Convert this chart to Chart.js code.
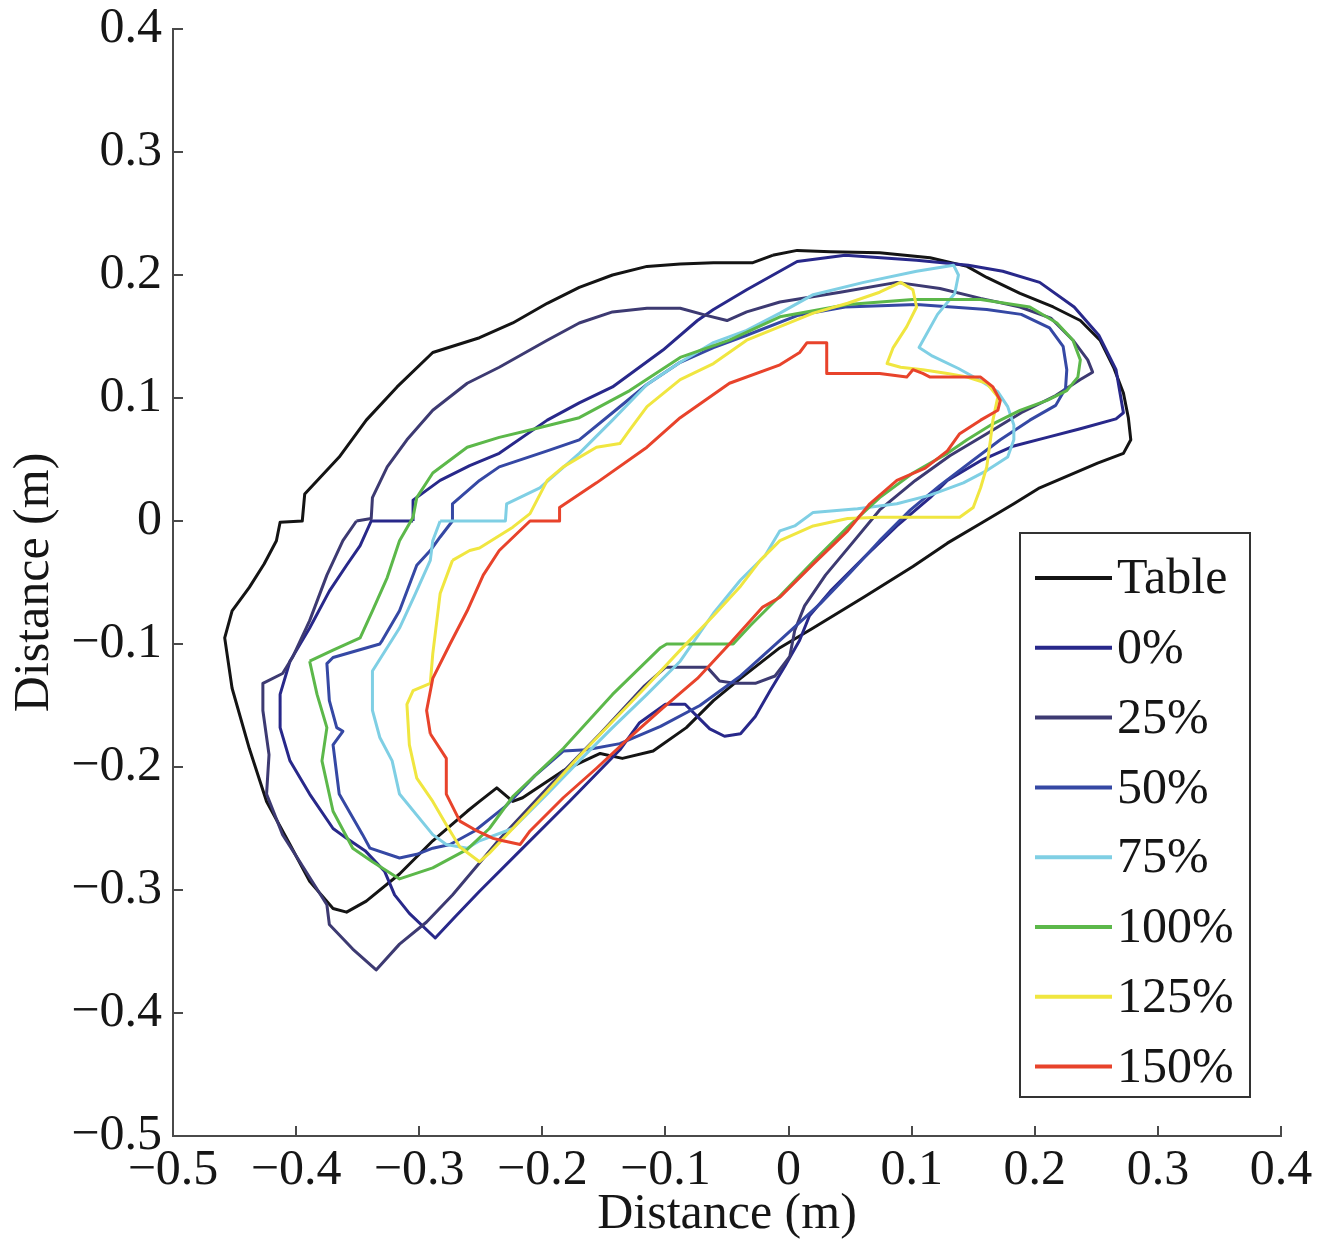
<!DOCTYPE html>
<html><head><meta charset="utf-8">
<style>html,body{margin:0;padding:0;background:#fff}#wrap{width:1331px;height:1245px}</style>
<script src="https://cdn.jsdelivr.net/npm/chart.js@4"></script>
</head><body><div id="wrap"><canvas id="c" width="1331" height="1245"></canvas></div>
<script>
const seriesLabels = ['Table','0%','25%','50%','75%','100%','125%','150%'];
const seriesColors = ['#141414','#28288a','#3d3a72','#3548a4','#7fcfe4','#5cb84a','#f0e640','#e8432b'];
const xTickValues = [-0.5,-0.4,-0.3,-0.2,-0.1,0,0.1,0.2,0.3,0.4];
const yTickValues = [-0.5,-0.4,-0.3,-0.2,-0.1,0,0.1,0.2,0.3,0.4];
const xTitle = 'Distance (m)';
const yTitle = 'Distance (m)';

const tablePts = [[-0.013,0.216],[0.007,0.220],[0.034,0.219],[0.074,0.218],[0.115,0.214],[0.145,0.207],[0.161,0.198],[0.188,0.185],[0.215,0.174],[0.237,0.163],[0.253,0.147],[0.264,0.125],[0.272,0.104],[0.276,0.084],[0.278,0.066],[0.272,0.055],[0.251,0.047],[0.223,0.035],[0.204,0.027],[0.183,0.014],[0.156,-0.002],[0.129,-0.018],[0.101,-0.037],[0.061,-0.062],[0.020,-0.087],[-0.007,-0.103],[-0.039,-0.128],[-0.061,-0.146],[-0.083,-0.168],[-0.110,-0.187],[-0.135,-0.193],[-0.153,-0.189],[-0.183,-0.203],[-0.216,-0.225],[-0.224,-0.228],[-0.237,-0.217],[-0.251,-0.228],[-0.261,-0.236],[-0.289,-0.260],[-0.316,-0.287],[-0.343,-0.309],[-0.359,-0.318],[-0.370,-0.315],[-0.389,-0.293],[-0.405,-0.263],[-0.424,-0.228],[-0.438,-0.185],[-0.452,-0.136],[-0.458,-0.095],[-0.452,-0.073],[-0.438,-0.054],[-0.426,-0.035],[-0.416,-0.016],[-0.413,-0.001],[-0.395,0.000],[-0.393,0.022],[-0.365,0.052],[-0.343,0.082],[-0.318,0.109],[-0.289,0.137],[-0.251,0.149],[-0.224,0.161],[-0.196,0.177],[-0.170,0.190],[-0.143,0.200],[-0.115,0.207],[-0.088,0.209],[-0.061,0.210],[-0.029,0.210]];

const p0Pts = [[-0.305,0.000],[-0.305,0.017],[-0.283,0.033],[-0.259,0.045],[-0.235,0.055],[-0.196,0.082],[-0.170,0.096],[-0.143,0.109],[-0.102,0.139],[-0.074,0.163],[-0.061,0.172],[-0.034,0.188],[0.007,0.211],[0.046,0.216],[0.104,0.212],[0.146,0.208],[0.174,0.203],[0.204,0.194],[0.232,0.174],[0.252,0.151],[0.266,0.123],[0.272,0.088],[0.266,0.083],[0.237,0.075],[0.210,0.068],[0.183,0.061],[0.156,0.049],[0.129,0.033],[0.115,0.019],[0.088,-0.004],[0.061,-0.030],[0.034,-0.057],[0.017,-0.077],[0.009,-0.097],[-0.003,-0.118],[-0.015,-0.138],[-0.027,-0.159],[-0.039,-0.173],[-0.052,-0.175],[-0.064,-0.169],[-0.074,-0.159],[-0.084,-0.149],[-0.100,-0.149],[-0.121,-0.164],[-0.137,-0.186],[-0.178,-0.228],[-0.218,-0.268],[-0.251,-0.301],[-0.271,-0.322],[-0.287,-0.339],[-0.308,-0.319],[-0.320,-0.304],[-0.328,-0.285],[-0.344,-0.268],[-0.359,-0.258],[-0.370,-0.250],[-0.389,-0.222],[-0.405,-0.195],[-0.413,-0.168],[-0.413,-0.141],[-0.405,-0.114],[-0.389,-0.087],[-0.373,-0.057],[-0.359,-0.036],[-0.348,-0.020],[-0.339,0.000]];

const p25Pts = [[-0.351,0.000],[-0.339,0.002],[-0.338,0.019],[-0.326,0.044],[-0.310,0.066],[-0.289,0.090],[-0.261,0.112],[-0.235,0.125],[-0.196,0.147],[-0.170,0.161],[-0.143,0.170],[-0.115,0.173],[-0.088,0.173],[-0.066,0.167],[-0.050,0.163],[-0.034,0.170],[-0.007,0.178],[0.042,0.186],[0.088,0.194],[0.123,0.189],[0.156,0.181],[0.188,0.174],[0.213,0.165],[0.231,0.147],[0.243,0.131],[0.247,0.121],[0.237,0.115],[0.217,0.102],[0.189,0.088],[0.161,0.071],[0.131,0.053],[0.103,0.033],[0.074,0.009],[0.050,-0.020],[0.030,-0.044],[0.013,-0.069],[0.005,-0.089],[0.001,-0.110],[-0.011,-0.126],[-0.027,-0.132],[-0.043,-0.132],[-0.056,-0.130],[-0.066,-0.119],[-0.100,-0.119],[-0.117,-0.134],[-0.153,-0.173],[-0.194,-0.215],[-0.235,-0.259],[-0.273,-0.304],[-0.294,-0.326],[-0.316,-0.344],[-0.335,-0.365],[-0.354,-0.348],[-0.373,-0.328],[-0.375,-0.312],[-0.397,-0.277],[-0.411,-0.255],[-0.424,-0.222],[-0.422,-0.190],[-0.427,-0.154],[-0.427,-0.132],[-0.411,-0.124],[-0.403,-0.111],[-0.389,-0.081],[-0.375,-0.044],[-0.362,-0.016]];

const p50Pts = [[-0.273,0.000],[-0.273,0.014],[-0.251,0.033],[-0.235,0.044],[-0.196,0.057],[-0.170,0.066],[-0.143,0.088],[-0.115,0.111],[-0.088,0.129],[-0.061,0.141],[-0.034,0.151],[0.007,0.167],[0.046,0.174],[0.104,0.176],[0.161,0.172],[0.189,0.168],[0.212,0.157],[0.223,0.142],[0.226,0.123],[0.225,0.108],[0.217,0.094],[0.196,0.082],[0.172,0.066],[0.148,0.048],[0.123,0.029],[0.099,0.009],[0.074,-0.016],[0.050,-0.042],[0.026,-0.067],[-0.007,-0.097],[-0.039,-0.126],[-0.072,-0.150],[-0.104,-0.167],[-0.137,-0.181],[-0.164,-0.186],[-0.183,-0.187],[-0.206,-0.207],[-0.230,-0.232],[-0.255,-0.252],[-0.275,-0.263],[-0.289,-0.266],[-0.302,-0.271],[-0.316,-0.274],[-0.340,-0.266],[-0.346,-0.255],[-0.365,-0.222],[-0.370,-0.182],[-0.362,-0.171],[-0.367,-0.168],[-0.373,-0.146],[-0.375,-0.116],[-0.370,-0.111],[-0.332,-0.100],[-0.330,-0.097],[-0.316,-0.073],[-0.302,-0.036],[-0.291,-0.024],[-0.283,-0.013]];

const p75Pts = [[-0.283,0.000],[-0.230,0.000],[-0.229,0.014],[-0.202,0.027],[-0.170,0.055],[-0.143,0.082],[-0.115,0.111],[-0.088,0.129],[-0.061,0.145],[-0.034,0.155],[-0.007,0.169],[0.020,0.184],[0.061,0.194],[0.104,0.203],[0.134,0.208],[0.138,0.200],[0.135,0.185],[0.121,0.168],[0.106,0.141],[0.117,0.134],[0.138,0.124],[0.156,0.114],[0.170,0.105],[0.178,0.093],[0.183,0.078],[0.183,0.066],[0.178,0.052],[0.161,0.041],[0.142,0.031],[0.115,0.021],[0.088,0.014],[0.056,0.010],[0.020,0.007],[0.005,-0.004],[-0.007,-0.008],[-0.019,-0.028],[-0.039,-0.048],[-0.061,-0.075],[-0.088,-0.114],[-0.115,-0.141],[-0.143,-0.168],[-0.170,-0.195],[-0.196,-0.222],[-0.224,-0.250],[-0.251,-0.260],[-0.261,-0.266],[-0.278,-0.263],[-0.289,-0.255],[-0.316,-0.222],[-0.322,-0.195],[-0.332,-0.176],[-0.338,-0.154],[-0.338,-0.122],[-0.316,-0.087],[-0.304,-0.061],[-0.291,-0.032],[-0.289,-0.016]];

const p100Pts = [[-0.389,-0.114],[-0.370,-0.105],[-0.348,-0.095],[-0.338,-0.073],[-0.326,-0.046],[-0.316,-0.016],[-0.305,0.003],[-0.302,0.019],[-0.289,0.039],[-0.261,0.060],[-0.235,0.068],[-0.210,0.074],[-0.170,0.084],[-0.129,0.106],[-0.088,0.133],[-0.048,0.147],[-0.007,0.166],[0.048,0.176],[0.101,0.180],[0.156,0.180],[0.196,0.174],[0.218,0.161],[0.231,0.147],[0.237,0.131],[0.235,0.117],[0.226,0.106],[0.210,0.098],[0.188,0.090],[0.166,0.079],[0.145,0.066],[0.129,0.055],[0.101,0.039],[0.074,0.019],[0.048,-0.005],[0.021,-0.032],[-0.007,-0.061],[-0.031,-0.085],[-0.045,-0.100],[-0.099,-0.100],[-0.104,-0.103],[-0.143,-0.141],[-0.183,-0.185],[-0.224,-0.224],[-0.243,-0.250],[-0.261,-0.267],[-0.289,-0.282],[-0.316,-0.291],[-0.338,-0.277],[-0.354,-0.266],[-0.370,-0.236],[-0.379,-0.195],[-0.375,-0.168],[-0.383,-0.141]];

const p125Pts = [[-0.273,-0.032],[-0.259,-0.024],[-0.251,-0.022],[-0.224,-0.005],[-0.210,0.006],[-0.196,0.033],[-0.183,0.044],[-0.156,0.060],[-0.137,0.063],[-0.129,0.074],[-0.115,0.093],[-0.088,0.115],[-0.061,0.128],[-0.034,0.147],[-0.007,0.158],[0.020,0.169],[0.048,0.177],[0.074,0.186],[0.091,0.194],[0.101,0.188],[0.104,0.174],[0.096,0.158],[0.085,0.141],[0.080,0.128],[0.091,0.125],[0.109,0.123],[0.129,0.120],[0.145,0.117],[0.161,0.112],[0.170,0.101],[0.166,0.082],[0.164,0.066],[0.161,0.044],[0.156,0.027],[0.150,0.011],[0.139,0.003],[0.115,0.003],[0.074,0.003],[0.048,0.002],[0.020,-0.004],[-0.007,-0.016],[-0.023,-0.032],[-0.039,-0.053],[-0.061,-0.077],[-0.088,-0.105],[-0.115,-0.134],[-0.143,-0.163],[-0.170,-0.191],[-0.196,-0.220],[-0.224,-0.250],[-0.243,-0.270],[-0.251,-0.277],[-0.267,-0.265],[-0.278,-0.247],[-0.289,-0.228],[-0.302,-0.209],[-0.308,-0.182],[-0.310,-0.149],[-0.305,-0.138],[-0.291,-0.132],[-0.289,-0.108],[-0.283,-0.059]];

const p150Pts = [[-0.291,-0.173],[-0.294,-0.154],[-0.289,-0.128],[-0.275,-0.100],[-0.261,-0.073],[-0.248,-0.044],[-0.235,-0.024],[-0.210,0.000],[-0.186,0.000],[-0.186,0.011],[-0.156,0.031],[-0.115,0.060],[-0.088,0.084],[-0.048,0.112],[-0.007,0.127],[0.009,0.137],[0.015,0.145],[0.031,0.145],[0.031,0.120],[0.074,0.120],[0.096,0.117],[0.101,0.123],[0.109,0.120],[0.115,0.117],[0.156,0.117],[0.166,0.109],[0.172,0.098],[0.170,0.090],[0.156,0.082],[0.139,0.071],[0.129,0.057],[0.111,0.043],[0.088,0.033],[0.066,0.014],[0.048,-0.008],[0.020,-0.035],[-0.007,-0.062],[-0.021,-0.070],[-0.048,-0.100],[-0.074,-0.128],[-0.102,-0.152],[-0.129,-0.176],[-0.156,-0.201],[-0.183,-0.225],[-0.210,-0.252],[-0.218,-0.263],[-0.232,-0.260],[-0.240,-0.258],[-0.253,-0.252],[-0.267,-0.244],[-0.278,-0.222],[-0.278,-0.193]];

const seriesPts = [tablePts, p0Pts, p25Pts, p50Pts, p75Pts, p100Pts, p125Pts, p150Pts];

const FONT = "'Liberation Serif','Times New Roman',serif";
const AXIS_COLOR = '#4a4a4a';
const TEXT_COLOR = '#161616';

function fmt(v){
  const r = Math.round(v*10)/10;
  if (r === 0) return '0';
  return (r < 0 ? '\u2212' : '') + Math.abs(r).toFixed(1);
}

const datasets = seriesPts.map((pts, i) => ({
  label: seriesLabels[i],
  data: pts.concat([pts[0]]).map(p => ({x: p[0], y: p[1]})),
  borderColor: seriesColors[i],
  backgroundColor: seriesColors[i],
  borderWidth: 3,
  showLine: true,
  pointRadius: 0,
  tension: 0,
  borderJoinStyle: 'round',
  fill: false,
  order: seriesLabels.length - i
}));

const legendBox = {
  id: 'legendBox',
  afterDraw(chart) {
    const ctx = chart.ctx;
    const x0 = 1020, y0 = 533, w = 230, h = 564;
    ctx.save();
    ctx.fillStyle = '#fff';
    ctx.fillRect(x0, y0, w, h);
    ctx.strokeStyle = '#333';
    ctx.lineWidth = 2;
    ctx.strokeRect(x0, y0, w, h);
    ctx.font = '50px ' + FONT;
    ctx.textBaseline = 'middle';
    ctx.textAlign = 'left';
    chart.data.datasets.forEach((ds, i) => {
      const y = y0 + 45 + i * 69.8;
      ctx.strokeStyle = ds.borderColor;
      ctx.lineWidth = 4;
      ctx.beginPath();
      ctx.moveTo(x0 + 15, y);
      ctx.lineTo(x0 + 92, y);
      ctx.stroke();
      ctx.fillStyle = TEXT_COLOR;
      ctx.fillText(ds.label, x0 + 97, y + 2);
    });
    ctx.restore();
  }
};

new Chart(document.getElementById('c'), {
  type: 'scatter',
  data: { datasets },
  options: {
    responsive: false,
    animation: false,
    devicePixelRatio: 1,
    layout: { padding: { top: 29, right: 50, bottom: 0, left: 0 } },
    plugins: { legend: { display: false }, tooltip: { enabled: false } },
    scales: {
      x: {
        type: 'linear', position: 'bottom', min: -0.5, max: 0.4,
        afterFit(s) { s.height = 109; s.paddingLeft = 0; s.paddingRight = 0; },
        afterBuildTicks(s) { s.ticks = xTickValues.map(v => ({value: v})); },
        border: { display: true, color: AXIS_COLOR, width: 2 },
        grid: { display: true, drawOnChartArea: false, drawTicks: true, tickLength: -10, color: AXIS_COLOR, lineWidth: 2 },
        ticks: { callback: v => fmt(v), font: { family: FONT, size: 50 }, color: TEXT_COLOR, padding: 15, maxRotation: 0, autoSkip: false },
        title: { display: true, text: xTitle, font: { family: FONT, size: 50 }, color: TEXT_COLOR, padding: { top: 0, bottom: 0 } }
      },
      y: {
        type: 'linear', position: 'left', min: -0.5, max: 0.4,
        afterFit(s) { s.width = 173; s.paddingTop = 0; s.paddingBottom = 0; },
        afterBuildTicks(s) { s.ticks = yTickValues.map(v => ({value: v})); },
        border: { display: true, color: AXIS_COLOR, width: 2 },
        grid: { display: true, drawOnChartArea: false, drawTicks: true, tickLength: -10, color: AXIS_COLOR, lineWidth: 2 },
        ticks: { callback: v => fmt(v), font: { family: FONT, size: 50 }, color: TEXT_COLOR, padding: 21, autoSkip: false },
        title: { display: true, text: yTitle, font: { family: FONT, size: 50 }, color: TEXT_COLOR, padding: { top: 5, bottom: 0 } }
      }
    }
  },
  plugins: [legendBox]
});
</script></body></html>
